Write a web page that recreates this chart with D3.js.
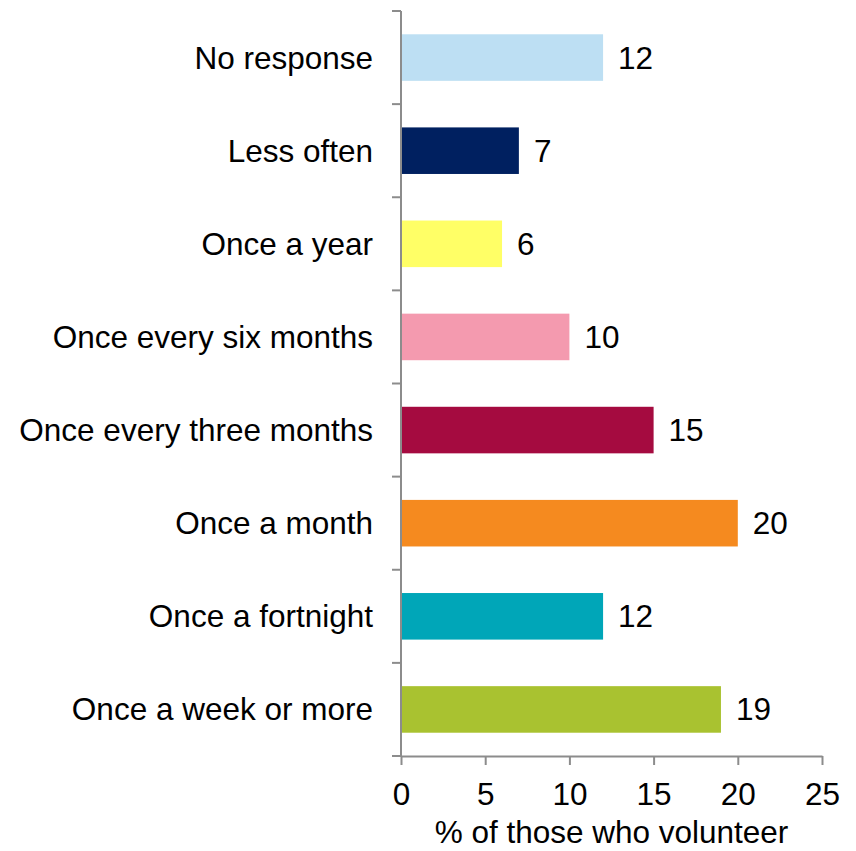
<!DOCTYPE html>
<html>
<head>
<meta charset="utf-8">
<script src="https://cdn.jsdelivr.net/npm/d3@7"></script>
<style>
  body { margin: 0; background: #fff; }
  text { font-family: "Liberation Sans", Arial, sans-serif; fill: #000; }
</style>
</head>
<body>
<div id="chart"></div>
<script>
// categories top to bottom
const categories = ["No response", "Less often", "Once a year", "Once every six months",
  "Once every three months", "Once a month", "Once a fortnight", "Once a week or more"];
const values = [12, 7, 6, 10, 15, 20, 12, 19];
const colors = ["#bddff3", "#002060", "#ffff66", "#f49aaf", "#a50b40", "#f58a1f", "#00a6b8", "#a9c230"];
const xTicks = [0, 5, 10, 15, 20, 25];
const xTitle = "% of those who volunteer";

const width = 856, height = 851;
const margin = {left: 401, right: 34, top: 11, bottom: 95};
const fontSize = 31.5;

const svg = d3.select("#chart").append("svg")
  .attr("width", width)
  .attr("height", height);

const x = d3.scaleLinear().domain([0, 25]).range([margin.left, width - margin.right]);
const y = d3.scaleBand().domain(categories).range([margin.top, height - margin.bottom]).paddingInner(0.5).paddingOuter(0.25);

// bars
svg.append("g").selectAll("rect")
  .data(values)
  .join("rect")
  .attr("x", x(0))
  .attr("y", (d, i) => y(categories[i]))
  .attr("width", d => x(d) - x(0))
  .attr("height", y.bandwidth())
  .attr("fill", (d, i) => colors[i]);

// value labels
svg.append("g").selectAll("text")
  .data(values)
  .join("text")
  .attr("x", d => x(d) + 15)
  .attr("y", (d, i) => y(categories[i]) + y.bandwidth() / 2)
  .attr("dy", "0.35em")
  .attr("font-size", fontSize)
  .text(d => d);

const axisColor = "#8c8c8c";
const y0 = margin.top, y1 = height - margin.bottom;

// y axis line and ticks at band boundaries
const ax = svg.append("g");
ax.append("line")
  .attr("x1", x(0)).attr("x2", x(0))
  .attr("y1", y0).attr("y2", y1)
  .attr("stroke", axisColor).attr("stroke-width", 2);
const step = (y1 - y0) / categories.length;
ax.selectAll("line.yt")
  .data(d3.range(categories.length + 1))
  .join("line")
  .attr("class", "yt")
  .attr("x1", x(0) - 9).attr("x2", x(0))
  .attr("y1", i => y0 + i * step).attr("y2", i => y0 + i * step)
  .attr("stroke", axisColor).attr("stroke-width", 2);

// category labels
svg.append("g").selectAll("text")
  .data(categories)
  .join("text")
  .attr("x", x(0) - 28)
  .attr("y", d => y(d) + y.bandwidth() / 2)
  .attr("dy", "0.35em")
  .attr("text-anchor", "end")
  .attr("font-size", fontSize)
  .text(d => d);

// x axis
const xAxis = svg.append("g")
  .attr("transform", `translate(0,${y1})`)
  .call(d3.axisBottom(x).tickValues(xTicks).tickSize(9).tickPadding(18).tickSizeOuter(0));
xAxis.select(".domain").attr("stroke", axisColor).attr("stroke-width", 2);
xAxis.selectAll(".tick line").attr("stroke", axisColor).attr("stroke-width", 2);
xAxis.selectAll(".tick text").attr("font-size", fontSize).attr("font-family", "Liberation Sans, Arial, sans-serif").attr("fill", "#000");

svg.append("text")
  .attr("x", (x(0) + x(25)) / 2)
  .attr("y", 843)
  .attr("text-anchor", "middle")
  .attr("font-size", fontSize)
  .text(xTitle);
</script>
</body>
</html>
